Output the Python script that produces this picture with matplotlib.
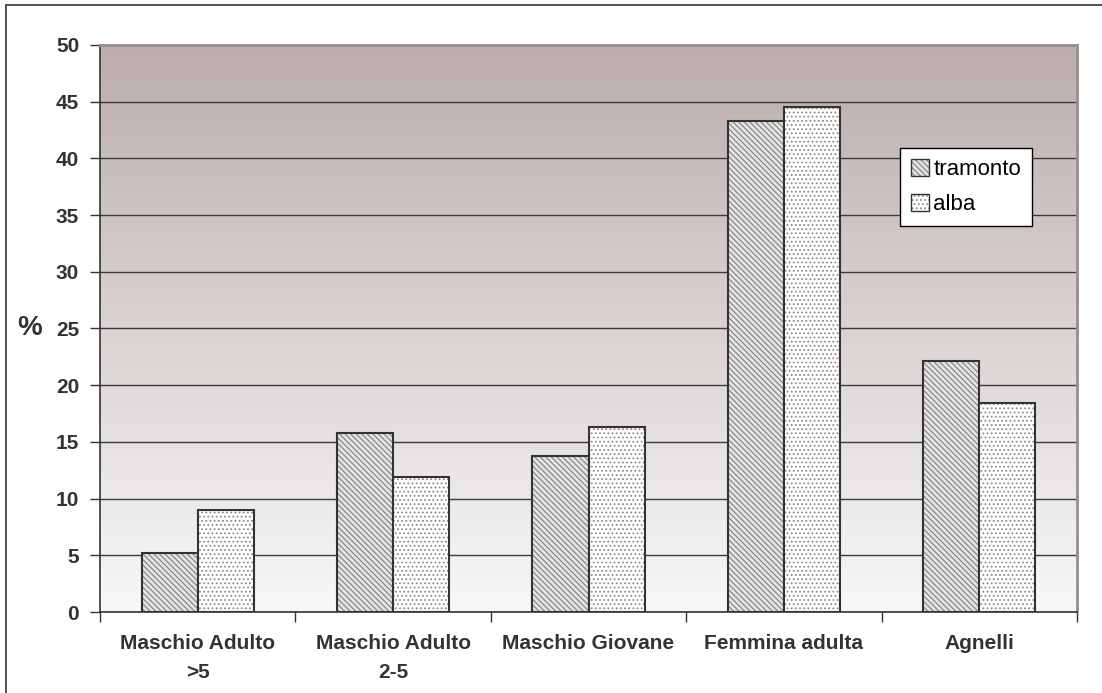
import numpy as np
import matplotlib
matplotlib.use("Agg")
import matplotlib.pyplot as plt
from matplotlib.colors import LinearSegmentedColormap, to_rgba
from matplotlib.patches import Rectangle

plt.rcParams['font.family'] = ['Liberation Sans', 'DejaVu Sans']
plt.rcParams['hatch.linewidth'] = 0.8

categories = ['Maschio Adulto\n>5', 'Maschio Adulto\n2-5', 'Maschio Giovane',
              'Femmina adulta', 'Agnelli']
tramonto = [5.2, 15.8, 13.8, 43.3, 22.1]
alba = [9.0, 11.9, 16.3, 44.5, 18.4]

fig = plt.figure(figsize=(11.02, 6.93), dpi=100)
ax = fig.add_axes([100 / 1102, 81 / 693, 977 / 1102, 567 / 693])

# plot area background: brownish grey fading to near white
grad = LinearSegmentedColormap.from_list('bg', ['#f8f8f8', '#bbaeac'])
ax.imshow(np.linspace(0, 1, 256).reshape(-1, 1), cmap=grad, aspect='auto',
          origin='lower', extent=[-0.5, len(categories) - 0.5, 0, 50], zorder=0)

x = np.arange(len(categories))
w = 0.287
b1 = ax.bar(x - w / 2, tramonto, w, facecolor='#e4e4e4', edgecolor='#333333',
            hatch='\\\\\\\\\\\\', linewidth=1.5, zorder=3, label='tramonto')
b2 = ax.bar(x + w / 2, alba, w, facecolor='white', edgecolor='#333333',
            hatch='....', linewidth=1.5, zorder=3, label='alba')
for p in b1:
    p._hatch_color = to_rgba('#808080')
for p in b2:
    p._hatch_color = to_rgba('#8a8a8a')

ax.set_xlim(-0.5, len(categories) - 0.5)
ax.set_ylim(0, 50)
ax.set_yticks(np.arange(0, 51, 5))
ax.yaxis.grid(True, color='#3a3a3a', linewidth=1.0, zorder=1)
ax.set_axisbelow(True)

# tick marks between groups, labels centred under each group
ax.set_xticks(np.arange(len(categories) + 1) - 0.5)
ax.set_xticklabels([])
ax.set_xticks(x, minor=True)
ax.set_xticklabels(categories, minor=True, fontsize=15, fontweight='bold',
                   color='#333333', linespacing=1.65)
ax.tick_params(axis='x', which='minor', length=0, pad=16)
ax.tick_params(axis='x', which='major', length=7, color='#333333', width=1)
ax.tick_params(axis='y', length=7, color='#333333', width=1, pad=8,
               labelsize=15, labelcolor='#333333')
for t in ax.get_yticklabels():
    t.set_fontweight('bold')

for side in ('left', 'bottom'):
    ax.spines[side].set_color('#333333')
    ax.spines[side].set_linewidth(1.2)
for side in ('top', 'right'):
    ax.spines[side].set_color('#9a8e8c')
    ax.spines[side].set_linewidth(2)

fig.text(30 / 1102, 1 - 328 / 693, '%', fontsize=20, fontweight='bold',
         color='#333333', ha='center', va='center')

leg = ax.legend(loc='upper left', bbox_to_anchor=(800 / 977, 1 - 103 / 567),
                fontsize=16, frameon=True, fancybox=False, framealpha=1,
                edgecolor='black', handlelength=0.8, handleheight=0.8,
                handletextpad=0.2, borderpad=0.5, labelspacing=0.6,
                borderaxespad=0)
leg.get_frame().set_linewidth(1.0)
for h in leg.legend_handles:
    h.set_linewidth(1.0)

# thin border around the whole chart
fig.patches.append(Rectangle((6 / 1102, -0.1), 1.2, 1 - 5 / 693 + 0.1,
                             transform=fig.transFigure, fill=False,
                             edgecolor='#333333', linewidth=1.2))

fig.savefig('out.png', dpi=100)
